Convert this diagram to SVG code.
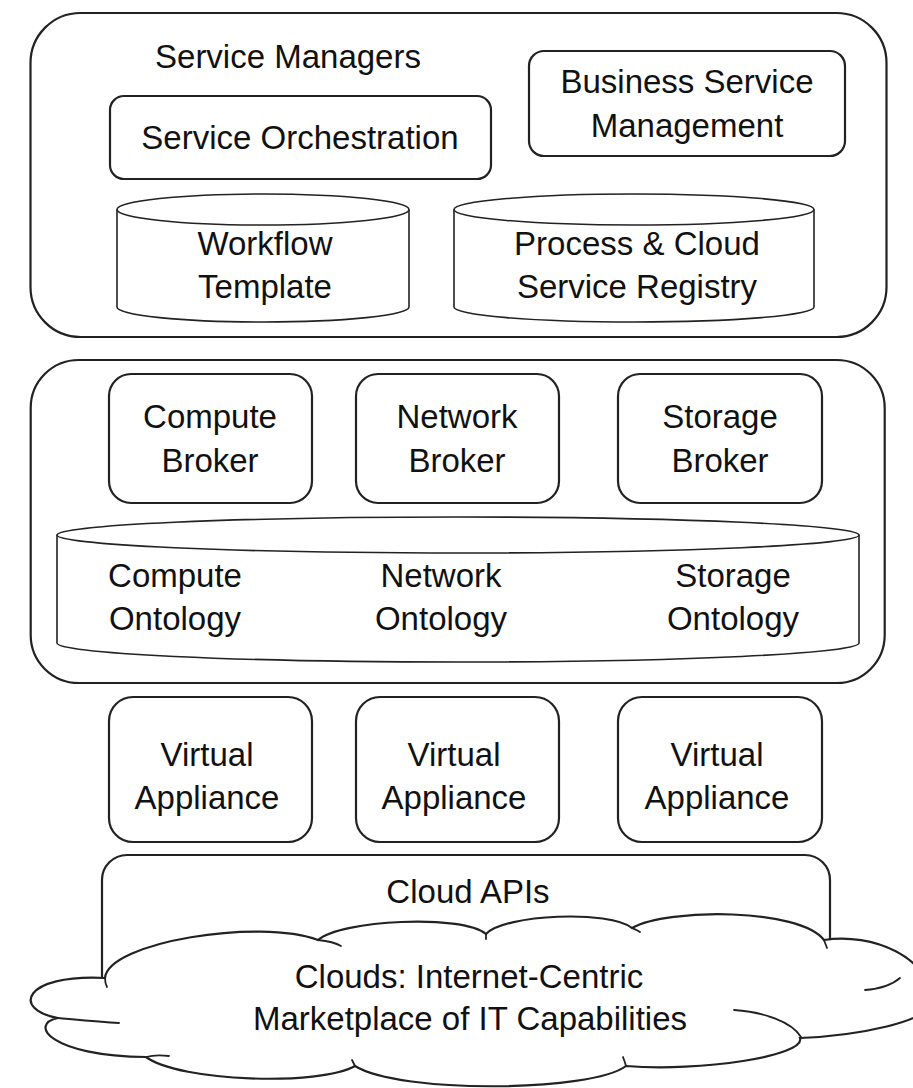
<svg xmlns="http://www.w3.org/2000/svg" width="913" height="1088" viewBox="0 0 913 1088">
  <style>
    .box { fill: #ffffff; stroke: #222222; stroke-width: 2.2; }
    .cyl { fill: #ffffff; stroke: #222222; stroke-width: 1.6; }
    .thin { fill: none; stroke: #222222; stroke-width: 1.8; stroke-linecap: round; }
    .lbl { font-family: "Liberation Sans", Arial, sans-serif; font-size: 33px; fill: #111111; text-anchor: middle; }
  </style>
  <rect width="913" height="1088" fill="#ffffff"/>

  <g id="service-managers">
    <rect class="box" x="30.5" y="13" width="856" height="324" rx="50" ry="50"/>
    <text class="lbl" x="288" y="68">Service Managers</text>
  </g>
  <g id="service-orchestration">
    <rect class="box" x="110" y="96" width="381" height="83" rx="14" ry="14"/>
    <text class="lbl" x="300" y="149">Service Orchestration</text>
  </g>
  <g id="business-service-management">
    <rect class="box" x="529" y="51" width="316" height="105" rx="15" ry="15"/>
    <text class="lbl" x="687" y="93">Business Service</text>
    <text class="lbl" x="687" y="137">Management</text>
  </g>
  <g id="workflow-template">
    <path class="cyl" d="M117 209.5 V307 A146 15 0 0 0 409 307 V209.5"/>
    <ellipse class="cyl" cx="263" cy="209.5" rx="146" ry="15.5"/>
    <text class="lbl" x="265" y="255">Workflow</text>
    <text class="lbl" x="265" y="298">Template</text>
  </g>
  <g id="process-cloud-service-registry">
    <path class="cyl" d="M454 209.5 V307 A180 15 0 0 0 814 307 V209.5"/>
    <ellipse class="cyl" cx="634" cy="209.5" rx="180" ry="15.5"/>
    <text class="lbl" x="637" y="255">Process &amp; Cloud</text>
    <text class="lbl" x="637" y="298">Service Registry</text>
  </g>

  <g id="broker-layer">
    <rect class="box" x="30.7" y="360" width="854" height="323" rx="48" ry="48"/>
  </g>
  <g id="compute-broker">
    <rect class="box" x="109" y="374" width="203" height="129" rx="22" ry="22"/>
    <text class="lbl" x="210" y="428">Compute</text>
    <text class="lbl" x="210" y="472">Broker</text>
  </g>
  <g id="network-broker">
    <rect class="box" x="356" y="374" width="203" height="129" rx="22" ry="22"/>
    <text class="lbl" x="457" y="428">Network</text>
    <text class="lbl" x="457" y="472">Broker</text>
  </g>
  <g id="storage-broker">
    <rect class="box" x="618" y="374" width="204" height="129" rx="22" ry="22"/>
    <text class="lbl" x="720" y="428">Storage</text>
    <text class="lbl" x="720" y="472">Broker</text>
  </g>
  <g id="ontology">
    <path class="cyl" d="M57 535 V643 A401 19 0 0 0 859 643 V535"/>
    <ellipse class="cyl" cx="458" cy="535" rx="401" ry="18"/>
    <text class="lbl" x="175" y="587">Compute</text>
    <text class="lbl" x="175" y="630">Ontology</text>
    <text class="lbl" x="441" y="587">Network</text>
    <text class="lbl" x="441" y="630">Ontology</text>
    <text class="lbl" x="733" y="587">Storage</text>
    <text class="lbl" x="733" y="630">Ontology</text>
  </g>

  <g id="virtual-appliance-1">
    <rect class="box" x="109" y="697" width="203" height="145" rx="24" ry="24"/>
    <text class="lbl" x="207" y="766">Virtual</text>
    <text class="lbl" x="207" y="809">Appliance</text>
  </g>
  <g id="virtual-appliance-2">
    <rect class="box" x="356" y="697" width="203" height="145" rx="24" ry="24"/>
    <text class="lbl" x="454" y="766">Virtual</text>
    <text class="lbl" x="454" y="809">Appliance</text>
  </g>
  <g id="virtual-appliance-3">
    <rect class="box" x="618" y="697" width="204" height="145" rx="24" ry="24"/>
    <text class="lbl" x="717" y="766">Virtual</text>
    <text class="lbl" x="717" y="809">Appliance</text>
  </g>

  <g id="cloud-apis">
    <rect class="box" x="102" y="855" width="728" height="160" rx="25" ry="25"/>
    <text class="lbl" x="468" y="903">Cloud APIs</text>
  </g>

  <g id="clouds">
    <path class="box" d="M105 978
      C108 942 260 918 318 940
      C340 920 462 914 486 934
      C505 914 610 910 632 928
      C668 908 800 908 824 940
      C872 932 932 958 930 1000
      C936 1022 852 1036 800 1038
      C806 1056 700 1072 626 1066
      C592 1092 400 1094 355 1066
      C320 1086 180 1082 146 1057
      C50 1056 28 1024 58 1018
      C12 1010 22 974 105 978 Z"/>
    <path class="thin" d="M318 940 C328 941 336 943 341 946"/>
    <path class="thin" d="M486 934 C486 935 486 937 486 939"/>
    <path class="thin" d="M632 928 C634 929 637 930 640 932"/>
    <path class="thin" d="M824 940 C825 943 826 945 827 948"/>
    <path class="thin" d="M900 978 C892 985 878 989 865 990"/>
    <path class="thin" d="M734 1010 C764 1012 792 1022 801 1037"/>
    <path class="thin" d="M626 1066 C625 1062 624 1060 623 1057"/>
    <path class="thin" d="M355 1066 C354 1064 353 1062 352 1060"/>
    <path class="thin" d="M146 1057 C153 1055 161 1055 169 1056"/>
    <path class="thin" d="M58 1018 C80 1020 100 1022 119 1023"/>
    <path class="thin" d="M105 978 C105 982 106 985 107 987"/>
    <text class="lbl" x="469" y="988">Clouds: Internet-Centric</text>
    <text class="lbl" x="470" y="1030">Marketplace of IT Capabilities</text>
  </g>
</svg>
